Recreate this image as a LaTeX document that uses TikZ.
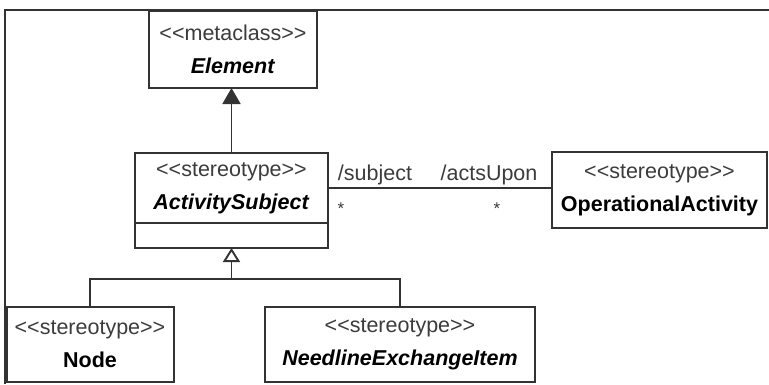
\documentclass[tikz,border=0pt]{standalone}
\usepackage{fontspec}
\setmainfont{Liberation Sans}
\usetikzlibrary{arrows.meta}
\definecolor{linec}{HTML}{333333}
\definecolor{stc}{HTML}{3C3C3C}
\tikzset{
  umlbox/.style={draw=linec, line width=2pt, fill=white, inner sep=0pt, outer sep=0pt, align=center,
    font=\fontsize{21.5}{33}\selectfont, text=black},
  lbl/.style={inner sep=0pt, font=\fontsize{21.5}{26}\selectfont, text=stc},
  conn/.style={draw=linec, line width=1.9pt},
  inh/.style={conn, -{Triangle[length=16pt, width=18pt, fill=linec]}},
  gen/.style={conn, -{Triangle[open, length=14pt, width=17pt, fill=white]}},
}
\newcommand{\stt}[1]{{\color{stc}{<}{<}#1{>}{>}}}
\begin{document}
\begin{tikzpicture}[x=1pt, y=-1pt]
\useasboundingbox (0,0) rectangle (769,384);
\fill[white] (0,0) rectangle (769,384);
% frame
\coordinate (fbl) at (5,384);
\coordinate (ftl) at (5,10);
\coordinate (ftr) at (769,10);
\draw[draw=linec, line width=2.2pt] (fbl) -- (ftl) -- (ftr);
% classes
\node[umlbox, minimum width=168pt, minimum height=77pt] (el) at (233,49.5)
  {\stt{metaclass}\\\textbf{\textit{Element}}};
\node[umlbox, minimum width=193pt, minimum height=70pt] (ast) at (231.5,188)
  {\stt{stereotype}\\\textbf{\textit{ActivitySubject}}};
\node[umlbox, minimum width=193pt, minimum height=25pt, anchor=north] (asb) at (ast.south) {};
\node[umlbox, minimum width=215pt, minimum height=76pt] (op) at (659.5,190)
  {\stt{stereotype}\\\textbf{OperationalActivity}};
\node[umlbox, minimum width=167pt, minimum height=75pt] (nd) at (90,344.5)
  {\stt{stereotype}\\\textbf{Node}};
\node[umlbox, minimum width=270pt, minimum height=75pt] (ne) at (400,344.5)
  {\stt{stereotype}\\\textbf{\textit{NeedlineExchangeItem}}};
% inheritance to Element
\draw[inh] (ast.north) -- (ast.north |- el.south);
% association
\draw[conn] (ast.east) -- (ast.east -| op.west);
\node[lbl] (subj) at (375,175) {/subject};
\node[lbl] (acts) at (489,175) {/actsUpon};
\node[lbl, font=\fontsize{17}{18}\selectfont] (m1) at (341,209) {*};
\node[lbl, font=\fontsize{17}{18}\selectfont] (m2) at (497,209) {*};
% generalization
\coordinate (j) at ([yshift=-31pt]asb.south);
\draw[conn] (nd.north) |- (j);
\draw[conn] (ne.north) |- (j);
\draw[gen] (j) -- (asb.south);
\end{tikzpicture}
\end{document}
